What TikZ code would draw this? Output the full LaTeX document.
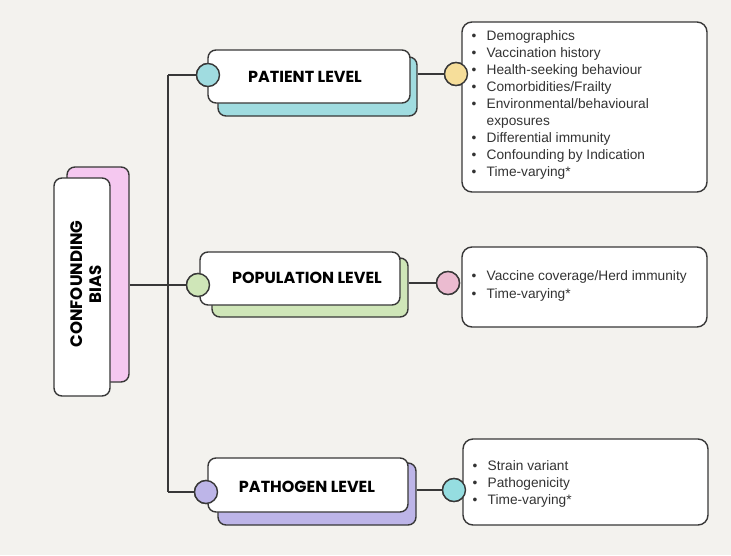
\documentclass[tikz,border=0pt]{standalone}
\usepackage{fontspec}
\setmainfont{Liberation Sans}
\newfontfamily\headfont{Poppins}
\definecolor{paper}{HTML}{F3F2EE}
\definecolor{ink}{HTML}{383838}
\definecolor{txt}{HTML}{333333}
\definecolor{pinkbg}{HTML}{F5C8F0}
\definecolor{cyanbg}{HTML}{A0DCE0}
\definecolor{yellowdot}{HTML}{F6DE9A}
\definecolor{greenbg}{HTML}{CFE6B8}
\definecolor{rosedot}{HTML}{EBBBD0}
\definecolor{purplebg}{HTML}{BDB5E8}
\definecolor{tealdot}{HTML}{95DDE0}
\begin{document}
\begin{tikzpicture}[x=1pt,y=-1pt,
  line width=1.4pt,
  card/.style={draw=ink, fill=white, rounded corners=8pt, inner sep=0pt},
  backcard/.style={draw=ink, rounded corners=8pt, inner sep=0pt},
  listbox/.style={draw=ink, fill=white, rounded corners=10pt, inner sep=0pt,
    minimum width=245pt},
  dot/.style={circle, draw=ink, minimum size=23pt, inner sep=0pt},
  head/.style={font=\headfont\bfseries\fontsize{16}{19}\selectfont, text=black},
  items/.style={anchor=west, align=left, inner sep=0pt, text=txt,
    font=\fontsize{13.7}{17.1}\selectfont},
  link/.style={draw=ink, line width=1.4pt}
]
\useasboundingbox (0,0) rectangle (731,555);
\fill[paper] (0,0) rectangle (731,555);

% junctions on the vertical trunk
\coordinate (jtop) at (168,75);
\coordinate (jbot) at (168,492);

% coloured dots (placed first so connectors can refer to them)
\path
  node[dot] (patL) at (208,75) {}
  node[dot] (patR) at (456,74) {}
  node[dot] (popL) at (198,285) {}
  node[dot] (popR) at (448,283) {}
  node[dot] (pathL) at (206,492) {}
  node[dot] (pathR) at (454,490) {};

% root card
\node[backcard, fill=pinkbg, minimum width=62pt, minimum height=215pt] (cbsh) at (98,274.5) {};

% connectors
\draw[link] (jtop) -- (jbot);
\draw[link] (jtop) -- (patL);
\draw[link] (jbot) -- (pathL);
\draw[link] (cbsh.east |- popL) -- (popL);

% level cards with coloured shadows
\node[backcard, fill=cyanbg, minimum width=199pt, minimum height=59pt] (patsh) at (317.5,86.5) {};
\node[backcard, fill=greenbg, minimum width=196pt, minimum height=59pt] (popsh) at (310,287.5) {};
\node[backcard, fill=purplebg, minimum width=198pt, minimum height=62pt] (pathsh) at (317,494) {};

\draw[link] (patsh.east |- patR) -- (patR);
\draw[link] (popsh.east |- popR) -- (popR);
\draw[link] (pathsh.east |- pathR) -- (pathR);

\node[card, minimum width=56pt, minimum height=218pt] (cb) at (82,287) {};
\node[card, minimum width=202pt, minimum height=53pt] (pat) at (309,76.5) {};
\node[card, minimum width=200pt, minimum height=53pt] (pop) at (300,278.5) {};
\node[card, minimum width=200pt, minimum height=54pt] (path) at (308,485) {};

% detail boxes
\node[listbox, minimum height=170pt] (patlist) at (584.5,107) {};
\node[listbox, minimum height=80pt] (poplist) at (584.5,287) {};
\node[listbox, minimum height=86pt] (pathlist) at (585.5,482) {};

% redraw dots on top with their fills
\node[dot, fill=cyanbg] at (patL) {};
\node[dot, fill=yellowdot] at (patR) {};
\node[dot, fill=greenbg] at (popL) {};
\node[dot, fill=rosedot] at (popR) {};
\node[dot, fill=purplebg] at (pathL) {};
\node[dot, fill=tealdot] at (pathR) {};

% labels
\node[head, rotate=90, align=center, font=\headfont\bfseries\fontsize{16.6}{18.5}\selectfont]
  (cbtext) at (86,284) {CONFOUNDING\\BIAS};
\node[head] (pattext) at (305,77) {PATIENT LEVEL};
\node[head] (poptext) at (307,278) {POPULATION LEVEL};
\node[head] (pathtext) at (307,487) {PATHOGEN LEVEL};

\newcommand{\bl}{\makebox[15pt][l]{\textbullet}}
\newcommand{\noblt}{\hspace*{15pt}}
\node[items] (patitems) at (471,105) {%
  \bl Demographics\\
  \bl Vaccination history\\
  \bl Health-seeking behaviour\\
  \bl Comorbidities/Frailty\\
  \bl Environmental/behavioural\\
  \noblt exposures\\
  \bl Differential immunity\\
  \bl Confounding by Indication\\
  \bl Time-varying*};
\node[items] (popitems) at (471,286) {%
  \bl Vaccine coverage/Herd immunity\\
  \bl Time-varying*};
\node[items] (pathitems) at (472,484) {%
  \bl Strain variant\\
  \bl Pathogenicity\\
  \bl Time-varying*};
\end{tikzpicture}
\end{document}
